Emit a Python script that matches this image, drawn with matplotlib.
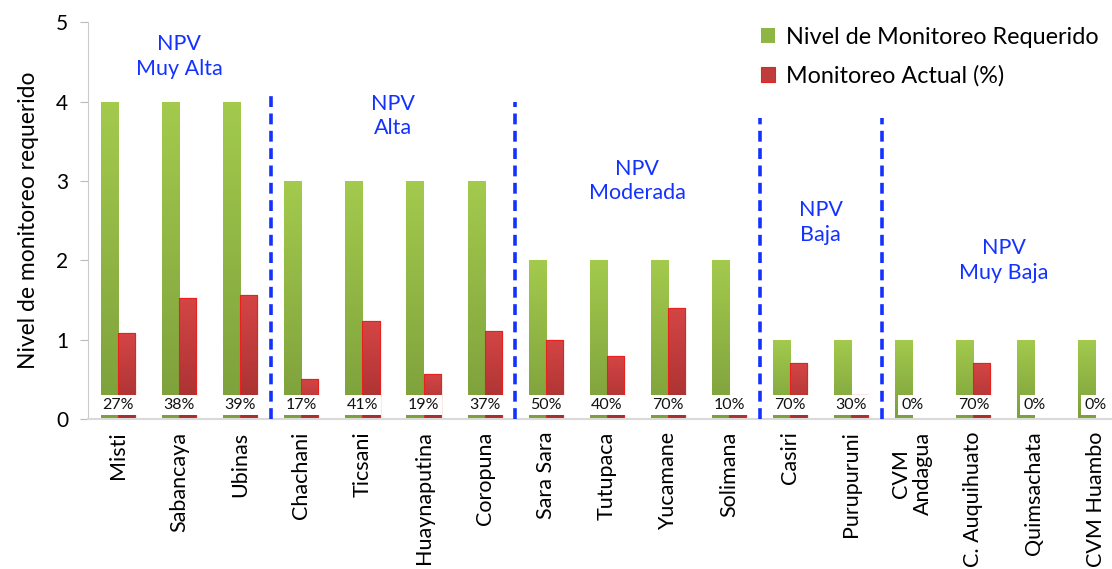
import numpy as np
import matplotlib
matplotlib.use("Agg")
import matplotlib.pyplot as plt
from matplotlib.colors import LinearSegmentedColormap

plt.rcParams['font.family'] = ['Lato', 'DejaVu Sans']

volcanes = ["Misti", "Sabancaya", "Ubinas", "Chachani", "Ticsani", "Huaynaputina",
            "Coropuna", "Sara Sara", "Tutupaca", "Yucamane", "Solimana", "Casiri",
            "Purupuruni", "CVM\nAndagua", "C. Auquihuato", "Quimsachata", "CVM Huambo"]
nivel_requerido = [4, 4, 4, 3, 3, 3, 3, 2, 2, 2, 2, 1, 1, 1, 1, 1, 1]
pct_actual = [27, 38, 39, 17, 41, 19, 37, 50, 40, 70, 10, 70, 30, 0, 70, 0, 0]

# grupos de peligro: (texto, posicion x, altura del texto)
grupos = [("NPV\nMuy Alta", 1.0, 4.57), ("NPV\nAlta", 4.5, 3.82),
          ("NPV\nModerada", 8.5, 3.0), ("NPV\nBaja", 11.5, 2.48),
          ("NPV\nMuy Baja", 14.5, 2.0)]
separadores = [2.5, 6.5, 10.5, 12.5]
sep_tope = [4.15, 4.0, 3.8, 3.8]

monitoreo_actual = [n * p / 100 for n, p in zip(nivel_requerido, pct_actual)]

fig = plt.figure(figsize=(11.12, 5.69), dpi=100)
ax = fig.add_axes([0.0787, 0.2636, 0.934, 0.697])

x = np.arange(len(volcanes))
w = 0.28

verde = LinearSegmentedColormap.from_list("verde", ["#7c9f3b", "#a3ca4d"])
rojo = LinearSegmentedColormap.from_list("rojo", ["#a32f2f", "#d44545"])
grad = np.linspace(0, 1, 64).reshape(-1, 1)


def pintar_gradiente(barras, cmap):
    for b in barras:
        if b.get_height() <= 0:
            continue
        x0, y0 = b.get_x(), b.get_y()
        im = ax.imshow(grad, cmap=cmap, aspect='auto', origin='lower',
                       extent=[x0, x0 + b.get_width(), y0, y0 + b.get_height()],
                       zorder=b.get_zorder() + 0.1)
        im.set_clip_path(b)


b1 = ax.bar(x - w / 2, nivel_requerido, w, color="#8fb544", zorder=2,
            label="Nivel de Monitoreo Requerido")
b2 = ax.bar(x + w / 2, monitoreo_actual, w, color="#c03c3c", edgecolor="#e8201e",
            linewidth=0.8, zorder=2, label="Monitoreo Actual (%)")
pintar_gradiente(b1, verde)
pintar_gradiente(b2, rojo)
for b in b2:
    if b.get_height() > 0:
        ax.bar(b.get_x() + w / 2, b.get_height(), w, fill=False,
               edgecolor="#e8201e", linewidth=0.8, zorder=2.5)

# etiquetas de porcentaje sobre fondo blanco
for xi, p in zip(x, pct_actual):
    ax.text(xi, 0.175, f"{p}%", ha="center", va="center", fontsize=11.5,
            color="#111111", zorder=4,
            bbox=dict(boxstyle="square,pad=0.2", fc="white", ec="none"))

for xs, top in zip(separadores, sep_tope):
    ax.plot([xs, xs], [0, top], color="#1432ff", lw=2.6, ls=(0, (3, 1.8)), zorder=3)

for txt, gx, gy in grupos:
    ax.text(gx, gy, txt, ha="center", va="center", color="#1432ff",
            fontsize=15.5, linespacing=1.3)

ax.set_xlim(-0.5, 16.5)
ax.set_ylim(0, 5)
ax.set_yticks(range(6))
ax.set_xticks(x)
ax.set_xticklabels(volcanes, rotation=90, fontsize=15.5, multialignment="center",
                   linespacing=1.1)
ax.tick_params(axis="y", labelsize=15, color="#bbbbbb", length=6, pad=8)
ax.tick_params(axis="x", length=0, pad=9)
ax.set_ylabel("Nivel de monitoreo requerido", fontsize=16.5, labelpad=12)

for s in ["top", "right"]:
    ax.spines[s].set_visible(False)
ax.spines["left"].set_color("#cccccc")
ax.spines["bottom"].set_color("#d9d9d9")
ax.spines["bottom"].set_linewidth(1.5)

ax.legend(loc="upper left", bbox_to_anchor=(0.684, 0.953), bbox_transform=fig.transFigure,
          frameon=False, fontsize=16.8, handlelength=0.6, handleheight=0.6,
          handletextpad=0.5, labelspacing=0.75, borderpad=0, borderaxespad=0)

fig.savefig("out.png", dpi=100)
